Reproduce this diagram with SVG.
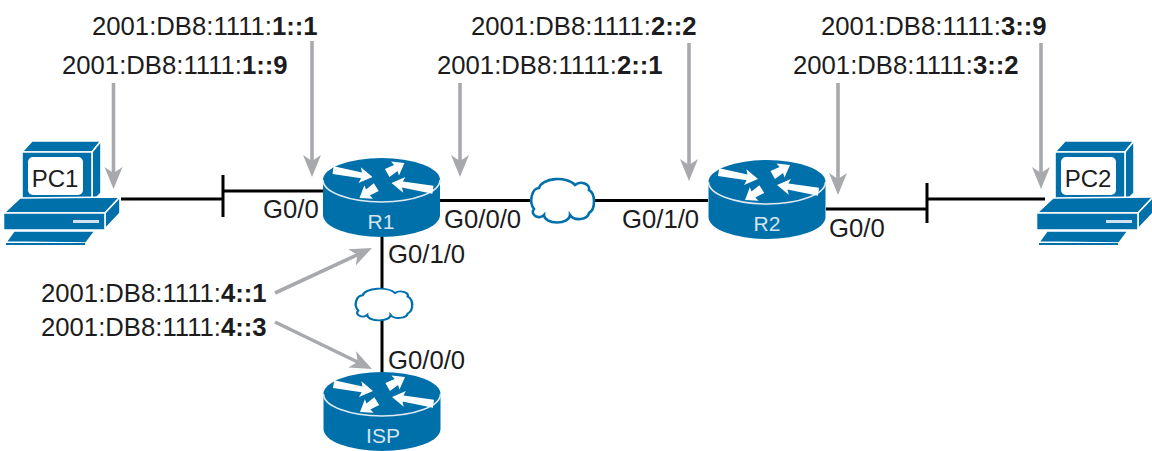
<svg xmlns="http://www.w3.org/2000/svg" xmlns:xlink="http://www.w3.org/1999/xlink" width="1152" height="451" viewBox="0 0 1152 451">
<style>
text{font-family:"Liberation Sans",Arial,sans-serif;font-size:25.7px;fill:#1c1c1e}
.b{font-weight:700}
.w{fill:#d5e5f0;font-size:21px;text-anchor:middle}
.pc{font-size:24px;text-anchor:middle;fill:#1c1c1e}
.blue{fill:#0070ab;stroke:#fff;stroke-width:1.6;stroke-linejoin:round}
.ln{stroke:#000;stroke-width:3;fill:none}
.gr{stroke:#a7a9ac;stroke-width:3.6;fill:none;marker-end:url(#gh)}
.cl{fill:#fff;stroke:#0070ab;stroke-width:2.6}
</style>
<defs>
<marker id="gh" markerUnits="userSpaceOnUse" markerWidth="24" markerHeight="20" refX="14" refY="10" orient="auto" viewBox="0 0 24 20">
<path d="M0,1 L22,10 L0,19 L6,10Z" fill="#a7a9ac"/>
</marker>
<g id="router">
<path d="M-58.500,0 V35 A58.500,22 0 0 0 58.500,35 V0Z" fill="#0070ab"/>
<ellipse rx="58.500" ry="22" fill="#0070ab"/>
<path d="M-58.500,0 A58.500,22 0 0 0 58.500,0" fill="none" stroke="#dfeaf3" stroke-width="1.6"/>
<g fill="#fff">
<path transform="translate(-9,-3) rotate(8.500)" d="M0,0 L-13,-8 L-11,-3 L-40,-5 L-40,3 L-11,3 L-13,8Z"/>
<path transform="translate(23,-17) rotate(-30)" d="M0,0 L-11,-8 L-10,-3.500 L-20,-4.500 L-20,4.500 L-10,3.500 L-11,8Z"/>
<path transform="translate(10,3) rotate(188)" d="M0,0 L-13,-8 L-11,-3 L-42,-5 L-42,3 L-11,3 L-13,8Z"/>
<path transform="translate(-22,18) rotate(147)" d="M0,0 L-11,-8 L-10,-3.500 L-20,-4.500 L-20,4.500 L-10,3.500 L-11,8Z"/>
</g>
</g>
<g id="pc">
<path class="blue" d="M22,152 L32,141 L101,141 L92,152Z"/>
<path class="blue" d="M92,152 L101,141 L101,193 L92,202Z"/>
<rect class="blue" x="22" y="152" width="70" height="50"/>
<rect x="28" y="157" width="55" height="38" rx="5" fill="#fff"/>
<path class="blue" d="M4,213 L20,198 L120,197 L105,213Z"/>
<path class="blue" d="M105,213 L120,197 L120,213 L105,229Z"/>
<rect class="blue" x="3.500" y="213" width="101.500" height="17"/>
<rect x="73" y="220" width="26" height="3" fill="#cfe2ef"/>
<path class="blue" d="M6,242 L14,231 L95,231 L86,243Z"/>
<path d="M6,244 H85" stroke="#0070ab" stroke-width="2"/>
</g>
<path id="cloud" d="M-22,-12 A19,10.500 0 0 1 14,-15 A8,6 0 0 1 28,-10 A7,12 0 0 1 28,13 A10,7 0 0 1 9,15 A13,7.500 0 0 1 -17,15 A6,5 0 0 1 -27,9 A8,12 0 0 1 -22,-12Z"/>
</defs>
<rect width="1152" height="451" fill="#fff"/>
<g id="connectors">
<path class="ln" d="M121,199 H223 M223,175 V217 M223,191 H323"/>
<path class="ln" d="M440,200.500 H708"/>
<path class="ln" d="M826,209 H927 M927,183 V223 M927,199 H1045"/>
<path class="ln" d="M382,237 V372"/>
<path class="gr" d="M113.500,83 V181"/>
<path class="gr" d="M312,41 V169"/>
<path class="gr" d="M460,83 V169"/>
<path class="gr" d="M689,43 V173"/>
<path class="gr" d="M838,83 V187"/>
<path class="gr" d="M1041,43 V181"/>
<path class="gr" d="M275,293 L364.700,251.400"/>
<path class="gr" d="M275,322 L364.800,365.500"/>
</g>
<g id="cloud1"><use xlink:href="#cloud" href="#cloud" class="cl" transform="translate(561,200)"/></g>
<g id="cloud2"><use xlink:href="#cloud" href="#cloud" class="cl" transform="translate(382.500,304) scale(.9,.73)"/></g>
<g id="PC1"><use xlink:href="#pc" href="#pc"/><text class="pc" x="55" y="187">PC1</text></g>
<g id="PC2"><use xlink:href="#pc" href="#pc" transform="translate(1033,0)"/><text class="pc" x="1088" y="187">PC2</text></g>
<g id="R1"><use xlink:href="#router" href="#router" transform="translate(381.500,180)"/><text class="w" x="381" y="229">R1</text></g>
<g id="R2"><use xlink:href="#router" href="#router" transform="translate(767,182)"/><text class="w" x="767" y="231">R2</text></g>
<g id="ISP"><use xlink:href="#router" href="#router" transform="translate(382,394)"/><text class="w" x="383" y="443">ISP</text></g>
<g id="labels">
<text x="92" y="35">2001:DB8:1111:<tspan class="b">1::1</tspan></text>
<text x="62" y="74">2001:DB8:1111:<tspan class="b">1::9</tspan></text>
<text x="471" y="35">2001:DB8:1111:<tspan class="b">2::2</tspan></text>
<text x="437" y="74">2001:DB8:1111:<tspan class="b">2::1</tspan></text>
<text x="821" y="35">2001:DB8:1111:<tspan class="b">3::9</tspan></text>
<text x="793" y="74">2001:DB8:1111:<tspan class="b">3::2</tspan></text>
<text x="41" y="302">2001:DB8:1111:<tspan class="b">4::1</tspan></text>
<text x="41" y="336">2001:DB8:1111:<tspan class="b">4::3</tspan></text>
<text x="263" y="218">G0/0</text>
<text x="444" y="228">G0/0/0</text>
<text x="622" y="228">G0/1/0</text>
<text x="829" y="237">G0/0</text>
<text x="388" y="263">G0/1/0</text>
<text x="388" y="369">G0/0/0</text>
</g>
</svg>
